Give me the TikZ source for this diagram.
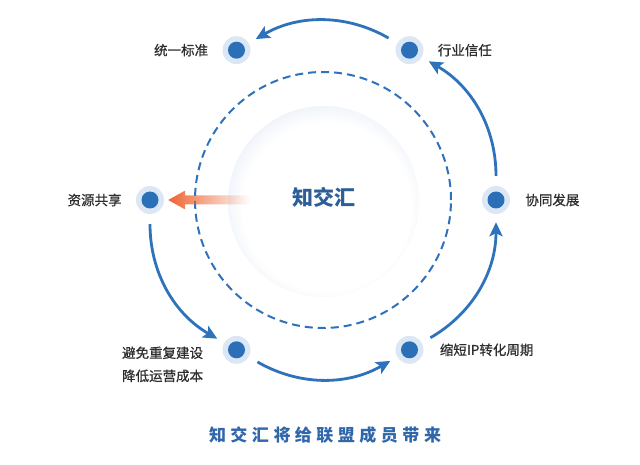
\documentclass[tikz,border=0pt]{standalone}
\usepackage{fontspec}
\newfontfamily\cjk{Noto Sans CJK SC}
\newfontfamily\cjkm[FakeBold=0.7]{Noto Sans CJK SC}
\usetikzlibrary{arrows.meta,positioning,fadings,calc}
\definecolor{mainblue}{HTML}{2E72BB}
\definecolor{dotblue}{HTML}{2A6FB7}
\definecolor{halo}{HTML}{DCE7F5}
\definecolor{glowedge}{HTML}{D0DCEF}
\definecolor{textgray}{HTML}{2E2E2E}
\definecolor{centerblue}{HTML}{2D5E9A}
\definecolor{titleblue}{HTML}{3066AA}
\definecolor{arroworange}{HTML}{EE6433}
\pgfdeclareradialshading{innerglow}{\pgfpoint{1.5bp}{-2.5bp}}{color(0bp)=(white); color(22bp)=(white); color(29bp)=(glowedge!50!white); color(34bp)=(glowedge); color(50bp)=(glowedge)}
\tikzfading[name=fadeout, left color=transparent!0, middle color=transparent!40, right color=transparent!100]
\begin{document}
\begin{tikzpicture}[x=1pt,y=1pt,
  hub/.style={circle, fill=halo, minimum size=28pt, inner sep=0pt,
    path picture={\fill[dotblue] (path picture bounding box.center) circle (8.5pt);}},
  lbl/.style={font=\cjkm\fontsize{13.5}{23}\selectfont, text=textgray, inner sep=0pt},
  flow/.style={draw=mainblue, line width=2.8pt, shorten <=10pt, shorten >=8pt,
    -{Stealth[length=14pt,width=13pt,inset=3pt]}},
  ring/.style={draw=mainblue, line width=2pt, dash pattern=on 8pt off 5pt}
]
\useasboundingbox (0,0) rectangle (640,464);
\fill[white] (0,0) rectangle (640,464);
\coordinate (c) at (323,264);
% inner glow circle
\begin{scope}
\clip (323.5,262.5) circle (95.5);
\node[circle, minimum size=191pt, inner sep=0pt, shading=innerglow, shade] (core) at (323.5,262.5) {};
\end{scope}
% dashed ring
\draw[ring] (c) circle (128);
% hubs
\node[hub] (n0) at ([shift={(0:173)}]c) {};
\node[hub] (n60) at ([shift={(60:173)}]c) {};
\node[hub] (n120) at ([shift={(120:173)}]c) {};
\node[hub] (n180) at ([shift={(180:173)}]c) {};
\node[hub] (n240) at ([shift={(240:173)}]c) {};
\node[hub] (n300) at ([shift={(300:173)}]c) {};
% connectors
\draw[flow] (n180) to[bend right=30] (n240);
\draw[flow] (n240) to[bend right=30] (n300);
\draw[flow] (n300) to[bend right=30] (n0);
\draw[flow] (n0) to[bend right=30] (n60);
\draw[flow] (n60) to[bend right=30] (n120);
% orange arrow
\coordinate (tip) at ([xshift=4pt]n180.east);
\fill[arroworange, path fading=fadeout] (tip) -- ++(17,9.5) -- ++(0,-5) -- ++(65,0) -- ++(0,-9) -- ++(-65,0) -- ++(0,-5) -- cycle;
% center text
\node[font=\cjk\bfseries\fontsize{21}{21}\selectfont, text=centerblue, inner sep=0pt] (ct) at (324,267) {知交汇};
% labels
\node[lbl, left=14pt of n120] (l120) {统一标准};
\node[lbl, right=14pt of n60] (l60) {行业信任};
\node[lbl, left=14pt of n180] (l180) {资源共享};
\node[lbl, right=15pt of n0] (l0) {协同发展};
\node[lbl, right=16pt of n300] (l300) {缩短IP转化周期};
\node[lbl, align=center, anchor=east] (l240) at ([xshift=-19pt,yshift=-14.5pt]n240.west) {避免重复建设\\降低运营成本};
% title
\node[font=\cjk\bfseries\fontsize{17}{17}\selectfont, text=titleblue, inner sep=0pt] (title) at (325,29)
  {知\hspace{4.5pt}交\hspace{4.5pt}汇\hspace{4.5pt}将\hspace{4.5pt}给\hspace{4.5pt}联\hspace{4.5pt}盟\hspace{4.5pt}成\hspace{4.5pt}员\hspace{4.5pt}带\hspace{4.5pt}来};
\end{tikzpicture}
\end{document}
